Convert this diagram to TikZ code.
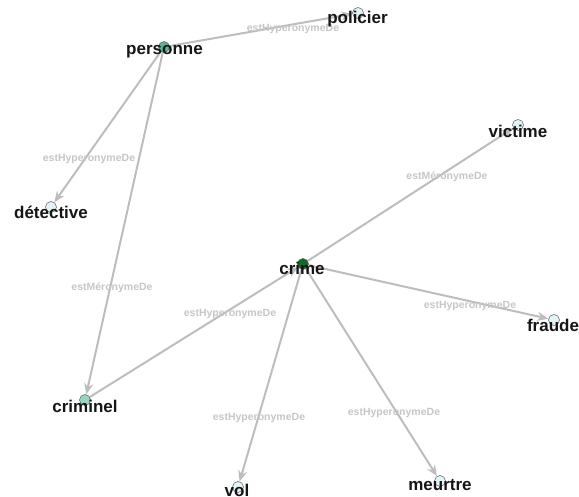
\documentclass[tikz,border=0pt]{standalone}
\usepackage{fontspec}
\setmainfont{Liberation Sans}
\usetikzlibrary{arrows.meta}
\definecolor{edgegray}{HTML}{BDBDBD}
\definecolor{elabgray}{HTML}{C6C6C6}
\definecolor{cpers}{HTML}{52B993}
\definecolor{ccrime}{HTML}{0E6B22}
\definecolor{ccrim}{HTML}{96D5C3}
\definecolor{clight}{HTML}{E3F4F8}
\definecolor{txt}{HTML}{151515}
\pgfdeclarelayer{edgelayer}
\pgfdeclarelayer{labellayer}
\pgfsetlayers{edgelayer,labellayer,main}
\tikzset{
  vert/.style={circle, draw=black!65, line width=0.5pt, minimum size=11pt, inner sep=0pt},
  rel/.style={draw=edgegray, line width=2pt, -{Stealth[length=11pt,width=9pt]}},
  elab/.style={text=elabgray, font=\fontsize{10.5}{12}\selectfont\bfseries, inner sep=0pt},
  nlab/.style={text=txt, font=\fontsize{17}{20}\selectfont\bfseries, inner sep=0pt},
}
\begin{document}
\begin{tikzpicture}[x=1pt,y=-1pt]
\useasboundingbox (0,0) rectangle (579,497);
% vertices
\node[vert, fill=cpers] (personne) at (164,47) {};
\node[vert, fill=clight] (policier) at (358,13) {};
\node[vert, fill=clight] (detective) at (51,207) {};
\node[vert, fill=ccrime] (crime) at (303,264) {};
\node[vert, fill=clight] (victime) at (518,125) {};
\node[vert, fill=clight] (fraude) at (554,320) {};
\node[vert, fill=ccrim] (criminel) at (85,400) {};
\node[vert, fill=clight] (vol) at (238,487) {};
\node[vert, fill=clight] (meurtre) at (440,481) {};
% edges
\begin{pgfonlayer}{edgelayer}
\draw[rel] (personne) -- (policier);
\draw[rel] (personne) -- (detective);
\draw[rel] (personne) -- (criminel);
\draw[rel] (criminel) -- (crime);
\draw[rel] (crime) -- (victime);
\draw[rel] (crime) -- (fraude);
\draw[rel] (crime) -- (vol);
\draw[rel] (crime) -- (meurtre);
\end{pgfonlayer}
% edge labels
\begin{pgfonlayer}{labellayer}
\node[elab] (l1) at (293,29) {estHyperonymeDe};
\node[elab] (l2) at (89,159) {estHyperonymeDe};
\node[elab] (l3) at (112,288) {estMéronymeDe};
\node[elab] (l4) at (230,314) {estHyperonymeDe};
\node[elab] (l5) at (447,177) {estMéronymeDe};
\node[elab] (l6) at (470,306) {estHyperonymeDe};
\node[elab] (l7) at (259,418) {estHyperonymeDe};
\node[elab] (l8) at (394,413) {estHyperonymeDe};
\end{pgfonlayer}
% vertex labels
\node[nlab] (tpolicier) at (357.5,19) {policier};
\node[nlab] (tpersonne) at (164.5,52) {personne};
\node[nlab] (tdetective) at (51,212) {détective};
\node[nlab] (tcrime) at (302,268) {crime};
\node[nlab] (tvictime) at (518,131) {victime};
\node[nlab] (tfraude) at (553,325) {fraude};
\node[nlab] (tcriminel) at (85,406) {criminel};
\node[nlab] (tvol) at (237,490) {vol};
\node[nlab] (tmeurtre) at (440,485) {meurtre};
\end{tikzpicture}
\end{document}
